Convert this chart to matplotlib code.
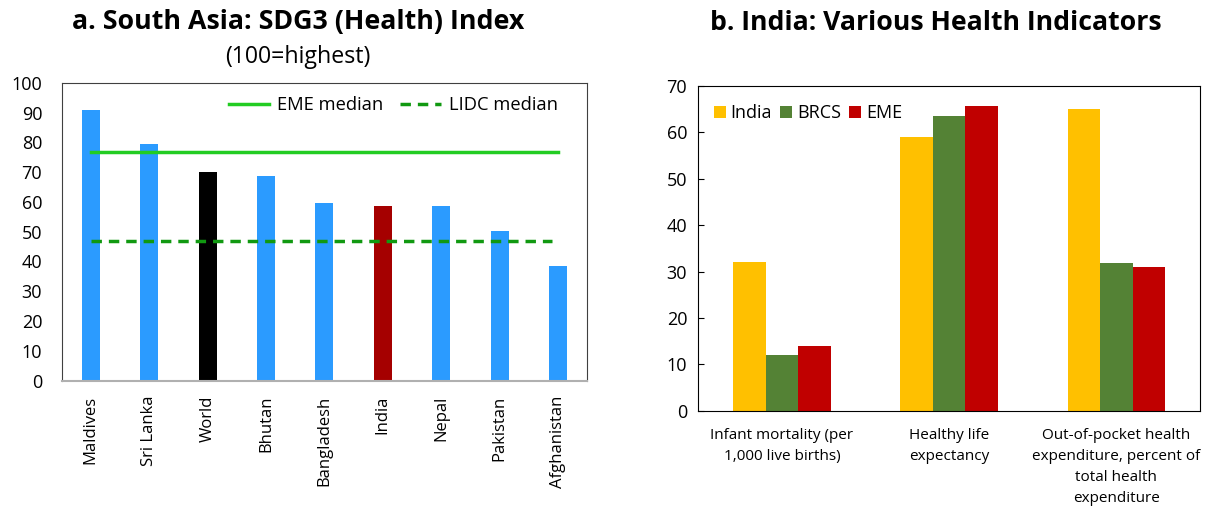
import numpy as np
import matplotlib.pyplot as plt
from matplotlib.lines import Line2D

plt.rcParams['font.family'] = ['Open Sans', 'DejaVu Sans']

# panel a: SDG3 index
countries = ['Maldives', 'Sri Lanka', 'World', 'Bhutan', 'Bangladesh',
             'India', 'Nepal', 'Pakistan', 'Afghanistan']
sdg3 = [91.0, 79.4, 70.0, 68.7, 59.7, 58.7, 58.7, 50.2, 38.6]
eme_median = 76.9
lidc_median = 46.9

# panel b: India health indicators
indicators = ['Infant mortality (per\n1,000 live births)',
              'Healthy life\nexpectancy',
              'Out-of-pocket health\nexpenditure, percent of\ntotal health\nexpenditure']
india = [32.0, 59.0, 65.0]
brcs = [12.0, 63.5, 31.8]
eme = [14.0, 65.7, 31.0]

blue = '#2B9BFF'
bar_colors = [blue] * len(countries)
bar_colors[countries.index('World')] = '#000000'
bar_colors[countries.index('India')] = '#A50000'

fig = plt.figure(figsize=(12.09, 5.08), dpi=100)

# ---- a ----
ax1 = fig.add_axes([0.051, 0.2506, 0.4347, 0.5866])
x = np.arange(len(countries))
ax1.bar(x, sdg3, width=0.31, color=bar_colors, zorder=2)
ax1.plot([x[0], x[-1]], [eme_median] * 2, color='#22CC22', lw=2.5, zorder=3)
ax1.plot([x[0], x[-1] - 0.1], [lidc_median] * 2, color='#119911', lw=2.5,
         ls=(0, (3, 2)), zorder=3)
ax1.set_xlim(-0.5, len(countries) - 0.5)
ax1.set_ylim(0, 100)
ax1.set_yticks(range(0, 101, 10))
ax1.set_xticks(x)
ax1.set_xticklabels(countries, rotation=90, fontsize=12)
ax1.tick_params(axis='both', length=0)
ax1.tick_params(axis='y', labelsize=13, pad=14)
ax1.tick_params(axis='x', pad=11)
for s in ax1.spines.values():
    s.set_color('#404040')
ax1.spines['bottom'].set_color('#B0B0B0')
ax1.spines['bottom'].set_linewidth(1.5)
handles = [Line2D([], [], color='#22CC22', lw=2.5),
           Line2D([], [], color='#119911', lw=2.5, ls=(0, (3, 2)))]
ax1.legend(handles, ['EME median', 'LIDC median'], ncol=2, frameon=False,
           loc='upper right', fontsize=13.2, handlelength=2.2,
           handletextpad=0.44, columnspacing=0.9,
           bbox_to_anchor=(0.975, 1.01))

fig.text(0.247, 0.957, 'a. South Asia: SDG3 (Health) Index', ha='center',
         va='center', fontsize=19.3, fontweight='bold')
fig.text(0.2465, 0.888, '(100=highest)', ha='center', va='center', fontsize=16.7)

# ---- b ----
ax2 = fig.add_axes([0.5776, 0.191, 0.415, 0.6404])
xi = np.arange(len(indicators))
w = 0.195
ax2.bar(xi - w, india, width=w, color='#FFC000', label='India', zorder=2)
ax2.bar(xi, brcs, width=w, color='#548235', label='BRCS', zorder=2)
ax2.bar(xi + w, eme, width=w, color='#C00000', label='EME', zorder=2)
ax2.set_xlim(-0.5, len(indicators) - 0.5)
ax2.set_ylim(0, 70)
ax2.set_yticks(range(0, 71, 10))
ax2.set_xticks(xi)
ax2.set_xticklabels(indicators, fontsize=11, linespacing=1.56)
ax2.tick_params(axis='x', length=0, pad=12)
ax2.tick_params(axis='y', labelsize=13, length=4, direction='in', pad=8)
for s in ax2.spines.values():
    s.set_color('#000000')
ax2.legend(loc='upper left', frameon=False, ncol=3, fontsize=13,
           handlelength=0.66, handleheight=0.66, handletextpad=0.26,
           columnspacing=0.46, borderaxespad=0.0, bbox_to_anchor=(0.017, 0.965))

fig.text(0.774, 0.954, 'b. India: Various Health Indicators', ha='center',
         va='center', fontsize=19.2, fontweight='bold')

fig.savefig('out.png', dpi=100)
